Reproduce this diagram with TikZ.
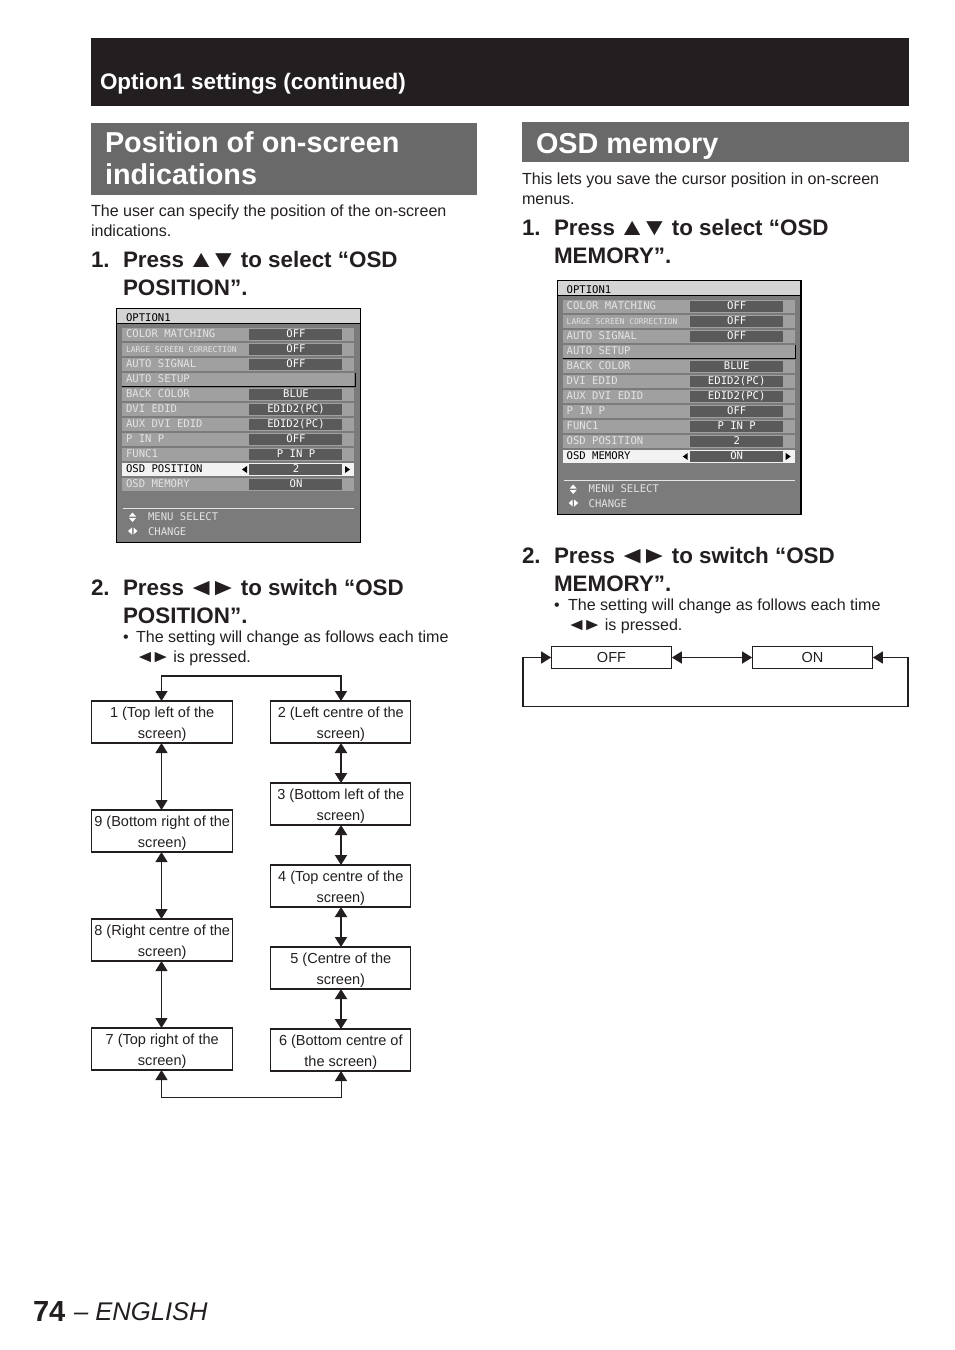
\documentclass[tikz,border=0pt]{standalone}
\usepackage{fontspec}
\setmainfont{Liberation Sans}
\newfontfamily\menufont{DejaVu Sans Mono}
\usetikzlibrary{arrows.meta}
\definecolor{ink}{HTML}{231F20}
\definecolor{band}{HTML}{696969}
\definecolor{mbody}{HTML}{7B7B7B}
\definecolor{mrow}{HTML}{A0A0A0}
\definecolor{mval}{HTML}{5A5A5A}
\definecolor{mtxt}{HTML}{E4E4E4}
\definecolor{mtitle}{HTML}{D4D4D4}
\newcount\tcnt
\newcommand{\T}[4][]{\global\advance\tcnt by 1
  \node[txt,#1] (t\the\tcnt) at (#2,#3) {#4};}
\newcommand{\gl}[1]{\makebox[.99em][c]{\scalebox{1.25}[1.08]{#1}}}
\newcommand{\fb}{\rule{0pt}{11.7pt}}
\newcommand{\bodyf}{\fontsize{12.05pt}{14pt}\selectfont}
\newcommand{\headf}{\fontsize{16.8pt}{20pt}\selectfont\bfseries}
\newcommand{\titlef}{\fontsize{21.6pt}{26pt}\selectfont\bfseries}
\newcommand{\msmall}{\fontsize{7.95pt}{9pt}\selectfont}
\newcommand{\mtiny}{\fontsize{6pt}{7pt}\selectfont}
\newcommand{\mrowitem}[4]{% y, label, value, font
  \fill[mrow] (6,#1-6.5) rectangle (238,#1+6.5);
  \T[text=mtxt,font=\menufont#4]{10}{#1+3}{#2}
  \fill[mval] (133,#1-5.5) rectangle (226,#1+5.5);
  \T[text=white,anchor=base,font=\menufont\msmall]{180}{#1+3}{#3}
}
\newcommand{\mhi}[3]{% y, label, value
  \fill[white!95!black] (6,#1-6.5) rectangle (238,#1+6.5);
  \T[text=black,font=\menufont\msmall]{10}{#1+3}{#2}
  \fill[mval] (133,#1-5.5) rectangle (226,#1+5.5);
  \T[text=white,anchor=base,font=\menufont\msmall]{180}{#1+3}{#3}
  \fill[black] (131,#1-3.5) -- (131,#1+3.5) -- (126,#1) -- cycle;
  \fill[black] (229,#1-3.5) -- (229,#1+3.5) -- (234,#1) -- cycle;
}
\newcommand{\menubox}{%
  \fill[mbody] (0,0) rectangle (245,235);
  \fill[mtitle] (1,1) rectangle (244,15);
  \draw[black,line width=1pt] (0.7,0.7) rectangle (244.3,234.3);
  \draw[black,line width=.6pt] (1,15.5) -- (244,15.5);
  \T[text=black,font=\menufont\msmall]{10}{13}{OPTION1}
}
\newcommand{\mfoot}{%
  \draw[white!90!black,line width=.6pt] (7,200) -- (238,200);
  \T[text=mtxt,font=\menufont\msmall]{32}{212}{MENU SELECT}
  \T[text=mtxt,font=\menufont\msmall]{32}{227}{CHANGE}
  \fill[white] (13,208.5) -- (16.5,204.5) -- (20,208.5) -- cycle (13,210) -- (16.5,214) -- (20,210) -- cycle;
  \fill[white] (16,219.5) -- (12,223) -- (16,226.5) -- cycle (17.5,219.5) -- (21.5,223) -- (17.5,226.5) -- cycle;
}
\tikzset{
  x=.75pt,y=-.75pt,
  txt/.style={inner sep=0pt,outer sep=0pt,anchor=base west,text=ink},
  flowbox/.style={draw=ink,line width=.9pt,fill=white,inner sep=0pt,outer sep=0pt,
    minimum width=106pt,minimum height=31.5pt,align=center,text=ink,font=\fontsize{10.9pt}{15.6pt}\selectfont},
  valbox/.style={draw=ink,line width=.9pt,fill=white,inner sep=0pt,outer sep=0pt,
    minimum width=90.5pt,minimum height=16.5pt,text=ink,font=\fontsize{10.9pt}{13pt}\selectfont},
  biarrow/.style={draw=ink,line width=.75pt,{Triangle[length=7.5pt,width=9pt]}-{Triangle[length=7.5pt,width=9pt]}},
  bithick/.style={biarrow,line width=1.5pt},
  bimid/.style={biarrow,line width=1.1pt},
}
\begin{document}
\begin{tikzpicture}
\useasboundingbox (0,0) rectangle (954,1350);
% header
\fill[ink] (91,38) rectangle (909,106);
\T[text=white,font=\fontsize{16.85pt}{20pt}\selectfont\bfseries]{100}{89}{Option1 settings (continued)}
% title bands
\fill[band] (91,123) rectangle (477,195);
\T[text=white,font=\titlef]{105}{152.5}{Position of on-screen}
\T[text=white,font=\titlef]{105}{184.5}{indications}
\fill[band] (522,122) rectangle (909,162);
\T[text=white,font=\titlef]{536}{153.5}{OSD memory}
% left text
\T[font=\bodyf]{91}{216}{The user can specify the position of the on-screen}
\T[font=\bodyf]{91}{236}{indications.}
\T[font=\headf]{91}{267}{1.}
\T[font=\headf]{123}{267}{Press \gl{▲}\gl{▼} to select “OSD}
\T[font=\headf]{123}{295}{POSITION”.}
\T[font=\headf]{91}{595}{2.}
\T[font=\headf]{123}{595}{Press \gl{◄}\gl{►} to switch “OSD}
\T[font=\headf]{123}{623}{POSITION”.}
\T[font=\bodyf]{123}{642}{•}
\T[font=\bodyf]{136}{642}{The setting will change as follows each time}
\T[font=\bodyf]{137}{662}{\gl{◄}\gl{►} is pressed.}
% right text
\T[font=\bodyf]{522}{184}{This lets you save the cursor position in on-screen}
\T[font=\bodyf]{522}{204}{menus.}
\T[font=\headf]{522}{235}{1.}
\T[font=\headf]{554}{235}{Press \gl{▲}\gl{▼} to select “OSD}
\T[font=\headf]{554}{263}{MEMORY”.}
\T[font=\headf]{522}{563}{2.}
\T[font=\headf]{554}{563}{Press \gl{◄}\gl{►} to switch “OSD}
\T[font=\headf]{554}{591}{MEMORY”.}
\T[font=\bodyf]{554}{610}{•}
\T[font=\bodyf]{568}{610}{The setting will change as follows each time}
\T[font=\bodyf]{568.5}{630}{\gl{◄}\gl{►} is pressed.}
% menu 1
\begin{scope}[shift={(116,308)}]
\menubox
\mrowitem{26}{COLOR MATCHING}{OFF}{\msmall}
\mrowitem{41.5}{LARGE SCREEN CORRECTION}{OFF}{\mtiny}
\mrowitem{56.5}{AUTO SIGNAL}{OFF}{\msmall}
\fill[mrow] (6,64.5) rectangle (238,77.5);
\draw[black,line width=.6pt] (6,78) -- (239,78) -- (239,65);
\T[text=mtxt,font=\menufont\msmall]{10}{74}{AUTO SETUP}
\mrowitem{86.5}{BACK COLOR}{BLUE}{\msmall}
\mrowitem{101.5}{DVI EDID}{EDID2(PC)}{\msmall}
\mrowitem{116.5}{AUX DVI EDID}{EDID2(PC)}{\msmall}
\mrowitem{131.5}{P IN P}{OFF}{\msmall}
\mrowitem{146.5}{FUNC1}{P IN P}{\msmall}
\mhi{161.5}{OSD POSITION}{2}
\mrowitem{176.5}{OSD MEMORY}{ON}{\msmall}
\mfoot
\end{scope}
% menu 2
\begin{scope}[shift={(556.7,280)}]
\menubox
\mrowitem{26}{COLOR MATCHING}{OFF}{\msmall}
\mrowitem{41.5}{LARGE SCREEN CORRECTION}{OFF}{\mtiny}
\mrowitem{56.5}{AUTO SIGNAL}{OFF}{\msmall}
\fill[mrow] (6,64.5) rectangle (238,77.5);
\draw[black,line width=.6pt] (6,78) -- (239,78) -- (239,65);
\T[text=mtxt,font=\menufont\msmall]{10}{74}{AUTO SETUP}
\mrowitem{86.5}{BACK COLOR}{BLUE}{\msmall}
\mrowitem{101.5}{DVI EDID}{EDID2(PC)}{\msmall}
\mrowitem{116.5}{AUX DVI EDID}{EDID2(PC)}{\msmall}
\mrowitem{131.5}{P IN P}{OFF}{\msmall}
\mrowitem{146.5}{FUNC1}{P IN P}{\msmall}
\mrowitem{161.5}{OSD POSITION}{2}{\msmall}
\mhi{176.5}{OSD MEMORY}{ON}
\mfoot
\end{scope}
% flow boxes
\node[flowbox] (p1) at (162.2,722) {\fb 1 (Top left of the\\screen)};
\node[flowbox] (p9) at (162.2,831) {\fb 9 (Bottom right of the\\screen)};
\node[flowbox] (p8) at (162.2,940) {\fb 8 (Right centre of the\\screen)};
\node[flowbox] (p7) at (162.2,1049) {\fb 7 (Top right of the\\screen)};
\node[flowbox,minimum width=105pt] (p2) at (340.8,722) {\fb 2 (Left centre of the\\screen)};
\node[flowbox,minimum width=105pt] (p3) at (340.8,804) {\fb 3 (Bottom left of the\\screen)};
\node[flowbox,minimum width=105pt] (p4) at (340.8,886) {\fb 4 (Top centre of the\\screen)};
\node[flowbox,minimum width=105pt] (p5) at (340.8,968) {\fb 5 (Centre of the\\screen)};
\node[flowbox,minimum width=105pt] (p6) at (340.8,1050) {\fb 6 (Bottom centre of\\the screen)};
\coordinate (stemL) at (161.5,900);
\coordinate (stemR) at (341,900);
\coordinate (topbar) at (250,676);
\coordinate (botbar) at (250,1097.5);
\draw[bimid] (p1.north -| stemL) -- (stemL |- topbar) -- (stemR |- topbar) -- (p2.north -| stemR);
\draw[biarrow] (p7.south -| stemL) -- (stemL |- botbar) -- (stemR |- botbar) -- (p6.south -| stemR);
\draw[biarrow] (p1.south -| stemL) -- (p9.north -| stemL);
\draw[biarrow] (p9.south -| stemL) -- (p8.north -| stemL);
\draw[biarrow] (p8.south -| stemL) -- (p7.north -| stemL);
\draw[bithick] (p2.south -| stemR) -- (p3.north -| stemR);
\draw[bithick] (p3.south -| stemR) -- (p4.north -| stemR);
\draw[bithick] (p4.south -| stemR) -- (p5.north -| stemR);
\draw[bithick] (p5.south -| stemR) -- (p6.north -| stemR);
\node[valbox] (off) at (611.5,657.5) {OFF};
\node[valbox] (on) at (812.5,657.5) {ON};
\coordinate (loopl) at (523,706.5);
\coordinate (loopr) at (908,706.5);
\draw[bimid] (off) -- (on);
\draw[bimid] (off.west) -- (off.west -| loopl) -- (loopl) -- (loopr) -- (on.east -| loopr) -- (on.east);
% footer
\T[font=\fontsize{21.8pt}{26pt}\selectfont\bfseries]{33}{1321}{74}
\T[font=\fontsize{19.2pt}{26pt}\selectfont\itshape]{74}{1320.5}{– ENGLISH}
\end{tikzpicture}
\end{document}
